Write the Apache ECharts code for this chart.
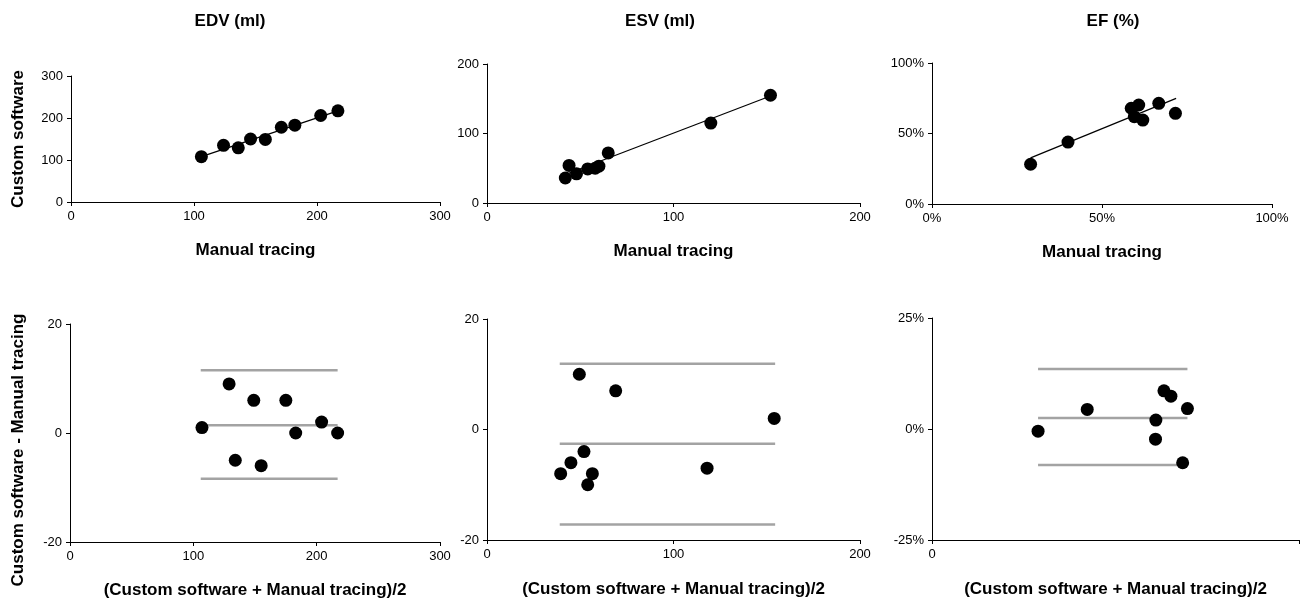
<!DOCTYPE html>
<html><head><meta charset="utf-8">
<script src="https://cdn.jsdelivr.net/npm/echarts@6/dist/echarts.min.js"></script>
<style>html,body{margin:0;padding:0;background:#fff}#c{width:1302px;height:602px}</style>
</head><body><div id="c"></div>
<script>
// ---- data ----
const panelTitles = ['EDV (ml)', 'ESV (ml)', 'EF (%)'];
const topXName = 'Manual tracing';
const topYName = 'Custom software';
const botXName = '(Custom software + Manual tracing)/2';
const botYName = 'Custom software - Manual tracing';

// EDV correlation
const edvManual = [106, 124, 136, 146, 158, 171, 182, 203, 217];
const edvCustom = [108, 135, 129, 150, 149, 178, 183, 206, 217];
const edvTrendX = [106, 217];
const edvTrendY = [108, 217];
// EDV Bland-Altman
const edvMean = [107, 129, 134, 149, 155, 175, 183, 204, 217];
const edvDiff = [1, 9, -5, 6, -6, 6, 0, 2, 0];
const edvLimitX = [106, 217];
const edvLimits = [11.5, 1.4, -8.4];

// ESV correlation
const esvManual = [42, 44, 48, 54, 58, 60, 65, 120, 152];
const esvCustom = [36, 54, 42, 49, 50, 53, 72, 115, 155];
const esvTrendX = [42, 152];
const esvTrendY = [41, 154];
// ESV Bland-Altman
const esvMean = [39.5, 45, 49.5, 52, 54, 56.5, 69, 118, 154];
const esvDiff = [-8, -6, 10, -4, -10, -8, 7, -7, 2];
const esvLimitX = [39, 154.5];
const esvLimits = [11.9, -2.6, -17.2];

// EF correlation (fractions)
const efManual = [0.29, 0.40, 0.586, 0.595, 0.608, 0.62, 0.667, 0.716];
const efCustom = [0.282, 0.439, 0.679, 0.619, 0.702, 0.595, 0.714, 0.643];
const efTrendX = [0.29, 0.718];
const efTrendY = [0.327, 0.749];
// EF Bland-Altman
const efMean = [0.289, 0.423, 0.632, 0.651, 0.61, 0.609, 0.696, 0.683];
const efDiff = [-0.005, 0.044, 0.086, 0.074, 0.02, -0.023, 0.046, -0.076];
const efLimitX = [0.289, 0.696];
const efLimits = [0.135, 0.025, -0.081];

// axis ranges
const edvTicks = {min: 0, max: 300, interval: 100};
const esvTicks = {min: 0, max: 200, interval: 100};
const efTicks = {min: 0, max: 1, interval: 0.5};
const diffTicks = {min: -20, max: 20, interval: 20};
const efDiffTicks = {min: -0.25, max: 0.25, interval: 0.25};
const efBaXTicks = {min: 0, max: 1, interval: 1};

// ---- chart ----
const FONT = '"Liberation Sans", Arial, Helvetica, sans-serif';
const pct = v => Math.round(v * 100) + '%';
const zip = (a, b) => a.map((v, i) => [v, b[i]]);
const nameStyle = {fill: '#000', fontSize: 17, fontWeight: 'bold', fontFamily: FONT};

function axis(t, extra) {
  return Object.assign({
    type: 'value', min: t.min, max: t.max, interval: t.interval,
    axisLine: {show: true, onZero: false, lineStyle: {color: '#000', width: 1}},
    axisTick: {show: true, inside: false, length: 4, lineStyle: {color: '#000', width: 1}},
    splitLine: {show: false},
    axisLabel: {color: '#000', fontSize: 13, fontFamily: FONT, margin: 8},
    nameLocation: 'middle',
    nameTextStyle: {color: '#000', fontSize: 17, fontWeight: 'bold', fontFamily: FONT}
  }, extra || {});
}

const grids = [
  {left: 71, top: 76, width: 369, height: 126},
  {left: 487, top: 64, width: 373, height: 139},
  {left: 932, top: 63, width: 340, height: 141},
  {left: 70, top: 324, width: 370, height: 218},
  {left: 487, top: 319, width: 373, height: 221},
  {left: 932, top: 318, width: 368, height: 222}
];

const xAxes = [
  axis(edvTicks, {gridIndex: 0, name: topXName, nameGap: 40}),
  axis(esvTicks, {gridIndex: 1, name: topXName, nameGap: 40}),
  axis(efTicks, {gridIndex: 2, name: topXName, nameGap: 40}),
  axis(edvTicks, {gridIndex: 3, name: botXName, nameGap: 40}),
  axis(esvTicks, {gridIndex: 4, name: botXName, nameGap: 41}),
  axis(efBaXTicks, {gridIndex: 5, name: botXName, nameGap: 41})
];
xAxes[2].axisLabel.formatter = pct;
xAxes[5].axisLabel.formatter = v => (v === 0 ? '0' : '');

const yAxes = [
  axis(edvTicks, {gridIndex: 0}),
  axis(esvTicks, {gridIndex: 1}),
  axis(efTicks, {gridIndex: 2}),
  axis(diffTicks, {gridIndex: 3}),
  axis(diffTicks, {gridIndex: 4}),
  axis(efDiffTicks, {gridIndex: 5})
];
yAxes[2].axisLabel.formatter = pct;
yAxes[5].axisLabel.formatter = pct;

function scatter(i, xs, ys) {
  return {type: 'scatter', xAxisIndex: i, yAxisIndex: i, data: zip(xs, ys),
    symbol: 'circle', symbolSize: 13, itemStyle: {color: '#000', opacity: 1}, z: 5, silent: true};
}
function line(i, xs, ys, color, width) {
  return {type: 'line', xAxisIndex: i, yAxisIndex: i, data: zip(xs, ys),
    symbol: 'none', lineStyle: {color: color, width: width, opacity: 1}, z: 2, silent: true, animation: false};
}
function limits(i, xs, vals) {
  return vals.map(v => line(i, xs, [v, v], '#a3a3a3', 2.5));
}

const series = [
  line(0, edvTrendX, edvTrendY, '#000', 1.2), scatter(0, edvManual, edvCustom),
  line(1, esvTrendX, esvTrendY, '#000', 1.2), scatter(1, esvManual, esvCustom),
  line(2, efTrendX, efTrendY, '#000', 1.2), scatter(2, efManual, efCustom),
  ...limits(3, edvLimitX, edvLimits), scatter(3, edvMean, edvDiff),
  ...limits(4, esvLimitX, esvLimits), scatter(4, esvMean, esvDiff),
  ...limits(5, efLimitX, efLimits), scatter(5, efMean, efDiff)
];

const titleCenters = [225, 655, 1108];
const titles = panelTitles.map((t, i) => ({
  text: t, left: titleCenters[i], top: 8, textAlign: 'center',
  textStyle: {color: '#000', fontSize: 17, fontWeight: 'bold', fontFamily: FONT}
}));

const graphic = [
  {type: 'text', x: 18, y: 139, rotation: Math.PI / 2,
   style: Object.assign({text: topYName, align: 'center', verticalAlign: 'middle'}, nameStyle)},
  {type: 'text', x: 18, y: 450, rotation: Math.PI / 2,
   style: Object.assign({text: botYName, align: 'center', verticalAlign: 'middle'}, nameStyle)}
];

const chart = echarts.init(document.getElementById('c'), null, {renderer: 'canvas'});
chart.setOption({
  animation: false,
  backgroundColor: '#fff',
  title: titles,
  grid: grids,
  xAxis: xAxes,
  yAxis: yAxes,
  series: series,
  graphic: graphic
});
</script></body></html>
